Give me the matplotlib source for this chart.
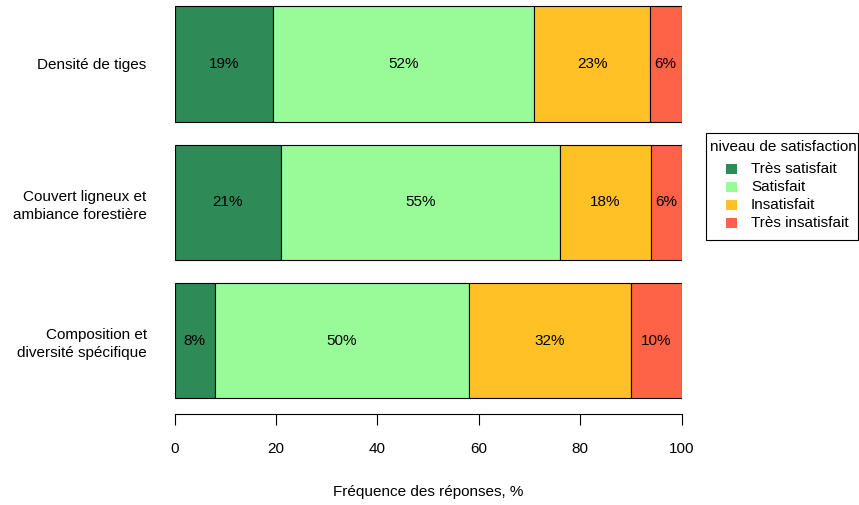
import numpy as np
import matplotlib.pyplot as plt
from matplotlib.patches import Rectangle

plt.rcParams['font.family'] = ['Liberation Sans', 'DejaVu Sans']

# Data (bottom to top, like R's barplot)
categories = ["Composition et\ndiversité spécifique",
              "Couvert ligneux et\nambiance forestière",
              "Densité de tiges"]
levels = ["Très satisfait", "Satisfait", "Insatisfait", "Très insatisfait"]
tres_satisfait = [7.9, 21.0, 19.4]
satisfait = [50.1, 55.1, 51.6]
insatisfait = [32.0, 17.8, 22.7]
tres_insatisfait = [10.0, 6.1, 6.3]
colors = ["#2E8B57", "#98FB98", "#FFC125", "#FF6347"]

series = [tres_satisfait, satisfait, insatisfait, tres_insatisfait]
ypos = np.array([0.7, 1.9, 3.1])
fs = 11

fig = plt.figure(figsize=(8.59, 5.05), dpi=100)
W, H = 859, 505
ax = fig.add_axes([174.5 / W, 1 - 414 / H, (681.5 - 174.5) / W, 414 / H])

left = np.zeros(len(categories))
for name, vals, col in zip(levels, series, colors):
    vals = np.array(vals)
    ax.barh(ypos, vals, height=1.0, left=left, color=col,
            edgecolor="black", linewidth=0.8, label=name)
    for y, l, v in zip(ypos, left, vals):
        ax.text(l + v / 2, y, f"{v:.0f}%", ha="center", va="center", fontsize=fs)
    left += vals

ax.set_xlim(0, 100)
ax.set_ylim(0.063, 3.655)
for s in ["top", "right", "left"]:
    ax.spines[s].set_visible(False)
ax.spines["bottom"].set_bounds(0, 100)
ax.spines["bottom"].set_linewidth(0.8)
ax.set_xticks([0, 20, 40, 60, 80, 100])
ax.tick_params(axis="x", length=8, width=0.8, labelsize=fs, pad=12)
ax.set_yticks(ypos)
ax.set_yticklabels(categories, fontsize=fs, ha="right", linespacing=1.35)
ax.tick_params(axis="y", length=0, pad=20)
ax.set_xlabel("Fréquence des réponses, %", fontsize=fs, labelpad=21)

# legend box drawn R-style (pixel positions, y from top)
def fx(px):
    return px / W

def fy(py):
    return 1 - py / H

fig.patches.append(Rectangle((fx(706), fy(240)), fx(858) - fx(706), fy(133) - fy(240),
                             transform=fig.transFigure, facecolor="white",
                             edgecolor="black", linewidth=0.8))
fig.text(fx(710), fy(147), "niveau de satisfaction", fontsize=fs, ha="left", va="center")
for i, (name, col) in enumerate(zip(levels, colors)):
    yc = 169 + i * 18
    fig.patches.append(Rectangle((fx(726), fy(yc + 5)), fx(11), 10 / H,
                                 transform=fig.transFigure, facecolor=col,
                                 edgecolor="none"))
    fig.text(fx(751), fy(yc), name, fontsize=fs, ha="left", va="center")

fig.savefig("out.png", dpi=100)
